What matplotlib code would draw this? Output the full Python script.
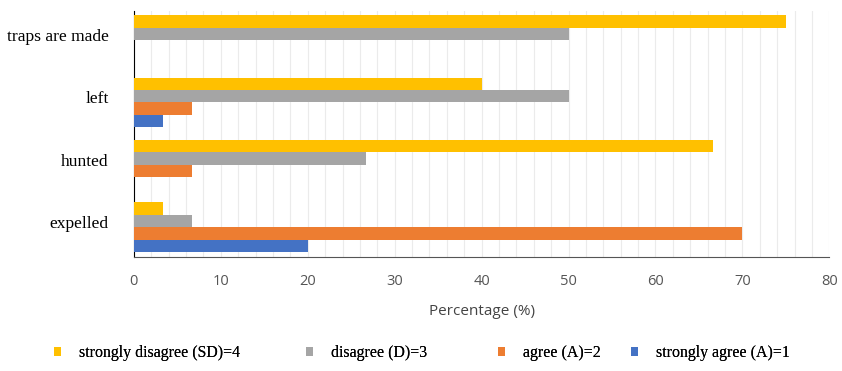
import numpy as np
import matplotlib.pyplot as plt
from matplotlib.patches import Rectangle
from matplotlib.ticker import MultipleLocator

# categories from bottom to top
categories = ['expelled', 'hunted', 'left', 'traps are made']

series_labels = ['strongly disagree (SD)=4', 'disagree (D)=3',
                 'agree (A)=2', 'strongly agree (A)=1']
sd_vals = [3.33, 66.67, 40.0, 75.0]
d_vals = [6.67, 26.67, 50.0, 50.0]
a_vals = [70.0, 6.67, 6.67, 0.0]
sa_vals = [20.0, 0.0, 3.33, 0.0]

colors = ['#FFC000', '#A5A5A5', '#ED7D31', '#4472C4']

fig = plt.figure(figsize=(8.42, 3.71), dpi=100)
ax = fig.add_axes([0.159, 0.307, 0.826, 0.663])

y = np.arange(len(categories))
h = 0.2
offsets = [1.5 * h, 0.5 * h, -0.5 * h, -1.5 * h]
for vals, off, col, lab in zip([sd_vals, d_vals, a_vals, sa_vals], offsets, colors, series_labels):
    ax.barh(y + off, vals, height=h, color=col, label=lab, zorder=3)

ax.set_xlim(0, 80)
ax.set_ylim(-0.48, 3.465)
ax.xaxis.set_major_locator(MultipleLocator(10))
ax.xaxis.set_minor_locator(MultipleLocator(2))
ax.grid(axis='x', which='both', color='#EBEBEB', linewidth=0.8, zorder=0)
# category labels sit a little above the middle of each group
ax.set_yticks(y + 0.08)
ax.set_yticklabels(categories, family='Liberation Serif', fontsize=12.6)
ax.tick_params(axis='y', length=0, pad=18)
ax.tick_params(axis='x', which='both', length=0, pad=12, labelsize=10.5, labelcolor='#555555')
for lbl in ax.get_xticklabels():
    lbl.set_family('Open Sans')

for s in ['top', 'right']:
    ax.spines[s].set_visible(False)
ax.spines['left'].set_color('black')
ax.spines['bottom'].set_color('#555555')

ax.set_xlabel('Percentage (%)', family='Open Sans', fontsize=11, color='#444444', labelpad=11)

# one legend entry per slot along the bottom
legend_x = [54 / 842, 306 / 842, 498 / 842, 631 / 842]
for lab, col, lx in zip(series_labels, colors, legend_x):
    handle = Rectangle((0, 0), 1, 1, facecolor=col, edgecolor='none')
    leg = fig.legend([handle], [lab], loc='center left', bbox_to_anchor=(lx, 0.048),
                     frameon=False, prop={'family': 'Liberation Serif', 'size': 11.4},
                     borderpad=0, borderaxespad=0, handlelength=0.45, handleheight=0.45,
                     handletextpad=1.15)
    fig.add_artist(leg)

fig.savefig('out.png', dpi=100)
